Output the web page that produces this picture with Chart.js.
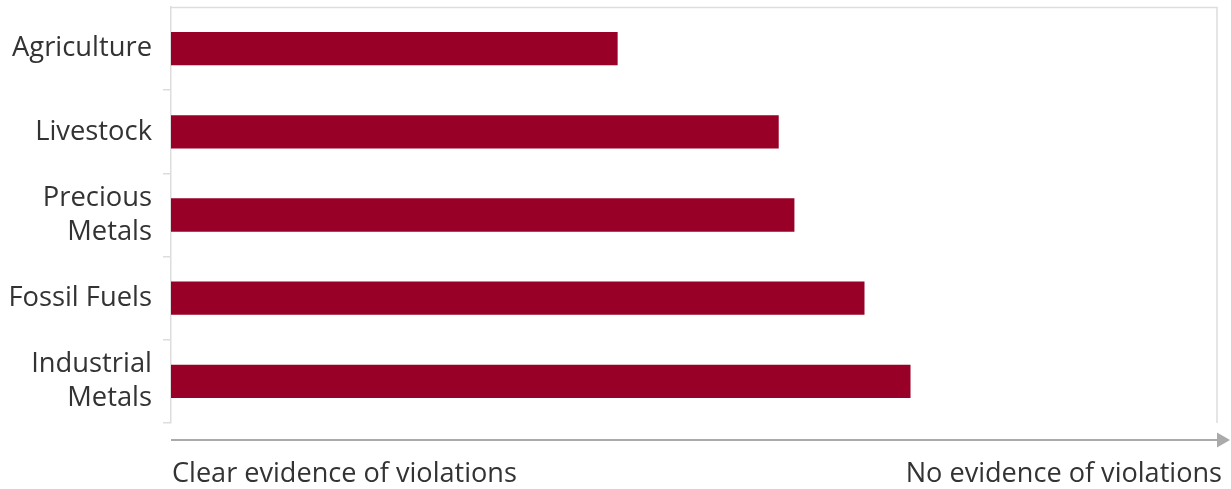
<!DOCTYPE html>
<html>
<head>
<meta charset="utf-8">
<script src="https://cdn.jsdelivr.net/npm/chart.js@4"></script>
<style>
html,body{margin:0;padding:0;background:#fff;}
#wrap{width:1231px;height:489px;position:relative;}
</style>
</head>
<body>
<div id="wrap"><canvas id="c" width="1231" height="489"></canvas></div>
<script>
const categories = [['Agriculture'], ['Livestock'], ['Precious', 'Metals'], ['Fossil Fuels'], ['Industrial', 'Metals']];
const values = [0.427, 0.581, 0.596, 0.663, 0.707];
const axisLabelLeft = 'Clear evidence of violations';
const axisLabelRight = 'No evidence of violations';

const FONT = '"Open Sans", Lato, sans-serif';
const TEXT = '#333333';

// size fonts so that text widths match the reference
function fitSize(text, targetWidth) {
  const m = document.createElement('canvas').getContext('2d');
  m.font = '100px ' + FONT;
  return 100 * targetWidth / m.measureText(text).width;
}
const tickSize = fitSize('Agriculture', 140);
const bottomSize = fitSize(axisLabelLeft, 345);

const framePlugin = {
  id: 'frame',
  afterDraw(chart) {
    const {ctx, chartArea: a} = chart;
    ctx.save();
    ctx.strokeStyle = '#dddddd';
    ctx.lineWidth = 1.5;
    ctx.beginPath();
    ctx.moveTo(a.left, a.top + 0.5);
    ctx.lineTo(a.right, a.top + 0.5);
    ctx.lineTo(a.right, a.bottom);
    ctx.stroke();
    // arrow
    const y = a.bottom + 17;
    ctx.strokeStyle = '#aaaaaa';
    ctx.fillStyle = '#aaaaaa';
    ctx.lineWidth = 2;
    ctx.beginPath();
    ctx.moveTo(a.left, y);
    ctx.lineTo(a.right + 1, y);
    ctx.stroke();
    ctx.beginPath();
    ctx.moveTo(a.right, y - 7.5);
    ctx.lineTo(a.right + 13, y);
    ctx.lineTo(a.right, y + 7.5);
    ctx.closePath();
    ctx.fill();
    // labels
    ctx.fillStyle = TEXT;
    ctx.font = bottomSize + 'px ' + FONT;
    ctx.textBaseline = 'middle';
    ctx.textAlign = 'left';
    ctx.fillText(axisLabelLeft, a.left + 1, a.bottom + 51);
    ctx.textAlign = 'right';
    ctx.fillText(axisLabelRight, a.right + 5, a.bottom + 51);
    ctx.restore();
  }
};

new Chart(document.getElementById('c'), {
  type: 'bar',
  data: {
    labels: categories,
    datasets: [{
      data: values,
      backgroundColor: '#990027',
      borderWidth: 0,
      barPercentage: 0.8,
      categoryPercentage: 0.5
    }]
  },
  options: {
    indexAxis: 'y',
    responsive: false,
    animation: false,
    devicePixelRatio: 1,
    layout: {padding: {top: 7, right: 14, bottom: 66, left: 0}},
    plugins: {legend: {display: false}, tooltip: {enabled: false}},
    scales: {
      x: {
        display: false,
        min: 0,
        max: 1
      },
      y: {
        afterFit(scale) {
          scale.width = 171;
          scale.paddingTop = 0;
          scale.paddingBottom = 0;
        },
        grid: {
          drawOnChartArea: false,
          drawTicks: true,
          tickLength: 8,
          lineWidth: 1.5,
          color: (c) => c.index === 0 ? 'rgba(0,0,0,0)' : '#dddddd'
        },
        border: {display: true, color: '#dddddd', width: 1.5},
        ticks: {
          color: TEXT,
          padding: 11,
          font: {family: FONT, size: tickSize, lineHeight: 34 / tickSize}
        }
      }
    }
  },
  plugins: [framePlugin]
});
</script>
</body>
</html>
